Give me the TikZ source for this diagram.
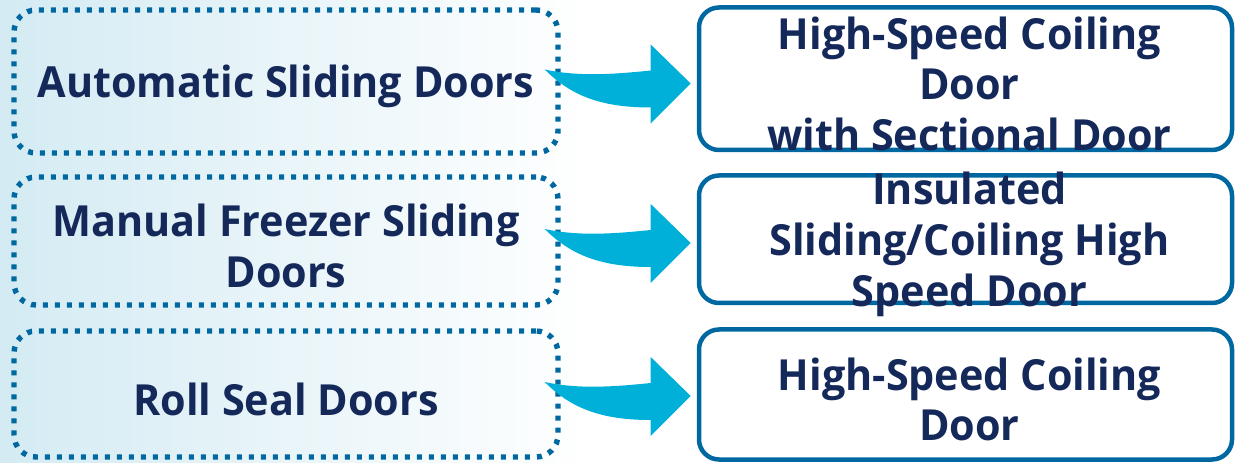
\documentclass[tikz,border=0pt]{standalone}
\usepackage{fontspec}
\setmainfont{Open Sans}[FakeStretch=0.965]
\usetikzlibrary{calc}
\definecolor{navy}{RGB}{20,40,90}
\definecolor{bord}{RGB}{0,104,160}
\definecolor{arrowc}{RGB}{0,176,216}
\definecolor{bgblue}{RGB}{212,235,243}
\begin{document}
\begin{tikzpicture}[x=1bp,y=-1bp,
  lbox/.style={draw=bord, line width=5.4bp, dash pattern=on 5bp off 7bp, rounded corners=22bp, inner sep=0pt, minimum width=544bp},
  rbox/.style={draw=bord, line width=4.5bp, rounded corners=20bp, inner sep=0pt, minimum width=533bp},
  txt/.style={text=navy, font=\fontsize{43}{51}\selectfont\bfseries, align=center, inner sep=0pt, yshift=-5bp},
  arr/.style={fill=arrowc, draw=none}
  ]
\useasboundingbox (0,0) rectangle (1236,463);
\shade[left color=bgblue, right color=white] (0,0) rectangle (590,463);
% left boxes
\node[lbox, minimum height=143bp] (L1) at (286,81.5) {};
\node[lbox, minimum height=128bp] (L2) at (286,241) {};
\node[lbox, minimum height=126bp] (L3) at (286,394) {};
% right boxes
\node[rbox, minimum height=142.5bp] (R1) at (965.5,78.75) {};
\node[rbox, minimum height=127.5bp] (R2) at (965.5,239.25) {};
\node[rbox, minimum height=130bp] (R3) at (965.5,394.5) {};
% texts
\node[txt] (T1) at (L1) {Automatic Sliding Doors};
\node[txt] (T2) at (L2) {Manual Freezer Sliding\\Doors};
\node[txt] (T3) at (L3) {Roll Seal Doors};
\node[txt, xshift=4bp] (U1) at (R1) {High-Speed Coiling\\Door\\with Sectional Door};
\node[txt, xshift=4bp] (U2) at (R2) {Insulated\\Sliding/Coiling High\\Speed Door};
\node[txt, xshift=4bp] (U3) at (R3) {High-Speed Coiling\\Door};
% arrows
\foreach \a in {L1,L2,L3}{
  \begin{scope}[shift={(\a.east)}]
    \fill[arrowc] (-16,-12) .. controls (20,-4) and (60,-8) .. (90,-11)
      -- (90,-37) -- (130,2) -- (90,42) -- (90,26)
      .. controls (40,26) and (10,14) .. (-16,-12) -- cycle;
  \end{scope}
}
\end{tikzpicture}
\end{document}
